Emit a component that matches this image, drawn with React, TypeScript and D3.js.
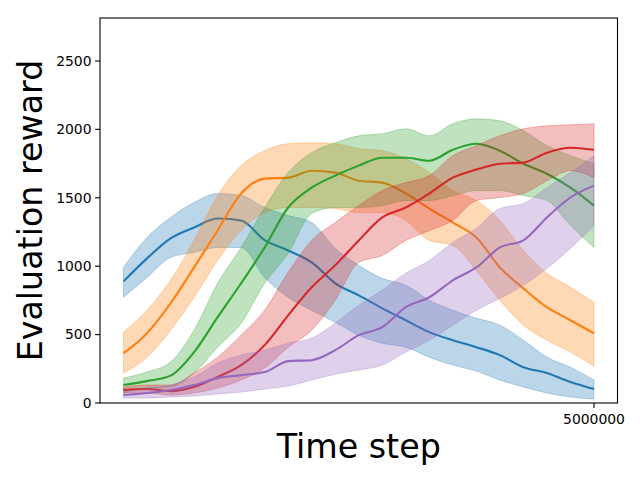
import * as d3 from 'd3';
import React, { useEffect, useRef } from 'react';

const steps = [
    0, 250000, 500000, 750000, 1000000, 1250000, 1500000, 1750000, 2000000,
    2250000, 2500000, 2750000, 3000000, 3250000, 3500000, 3750000, 4000000,
    4250000, 4500000, 4750000, 5000000,
];

const xTicks = [5000000];
const yTicks = [0, 500, 1000, 1500, 2000, 2500];

const blueMean = [889, 1057, 1203, 1283, 1348, 1334, 1190, 1115, 1028, 875, 787, 692, 605, 518, 459, 408, 350, 262, 219, 153, 102];
const blueUpper = [991, 1210, 1356, 1465, 1531, 1516, 1429, 1370, 1319, 1130, 1006, 911, 860, 751, 678, 620, 569, 459, 335, 262, 168];
const blueLower = [773, 918, 1064, 1101, 1137, 1137, 918, 773, 678, 590, 496, 437, 408, 335, 277, 233, 168, 117, 73, 44, 29];

const orangeMean = [364, 510, 729, 991, 1261, 1531, 1640, 1647, 1698, 1684, 1625, 1611, 1531, 1421, 1319, 1210, 991, 838, 700, 605, 510];
const orangeUpper = [518, 678, 897, 1188, 1516, 1735, 1844, 1895, 1902, 1895, 1859, 1844, 1786, 1684, 1553, 1480, 1334, 1115, 948, 846, 736];
const orangeLower = [219, 335, 532, 773, 1042, 1261, 1392, 1429, 1429, 1421, 1392, 1392, 1334, 1188, 1152, 969, 751, 569, 459, 372, 270];

const greenMean = [131, 160, 200, 372, 627, 875, 1137, 1429, 1574, 1662, 1735, 1793, 1793, 1771, 1851, 1895, 1844, 1749, 1676, 1574, 1443];
const greenUpper = [182, 226, 299, 532, 875, 1137, 1429, 1684, 1830, 1902, 1953, 1968, 2004, 1953, 2041, 2077, 2063, 1990, 1881, 1808, 1749];
const greenLower = [73, 109, 117, 219, 408, 583, 875, 1093, 1385, 1429, 1429, 1443, 1480, 1480, 1516, 1553, 1553, 1516, 1480, 1297, 1137];

const redMean = [95, 102, 87, 117, 190, 277, 423, 641, 846, 1006, 1188, 1356, 1429, 1531, 1647, 1706, 1749, 1757, 1830, 1866, 1851];
const redUpper = [117, 131, 131, 219, 335, 496, 678, 955, 1188, 1319, 1443, 1553, 1611, 1662, 1808, 1881, 1953, 2004, 2026, 2034, 2041];
const redLower = [73, 73, 58, 73, 109, 168, 255, 408, 532, 751, 1028, 1079, 1188, 1261, 1334, 1480, 1502, 1531, 1625, 1698, 1647];

const purpleMean = [58, 73, 95, 131, 182, 204, 226, 306, 313, 386, 496, 554, 700, 773, 897, 991, 1137, 1188, 1356, 1502, 1589];
const purpleUpper = [80, 109, 131, 190, 292, 350, 386, 437, 474, 583, 714, 824, 948, 1042, 1174, 1276, 1421, 1458, 1574, 1684, 1808];
const purpleLower = [36, 36, 44, 51, 66, 80, 102, 124, 168, 211, 241, 277, 372, 459, 569, 678, 765, 860, 984, 1130, 1297];

const series = [
    { color: '#1f77b4', mean: blueMean, upper: blueUpper, lower: blueLower },
    { color: '#ff7f0e', mean: orangeMean, upper: orangeUpper, lower: orangeLower },
    { color: '#2ca02c', mean: greenMean, upper: greenUpper, lower: greenLower },
    { color: '#d62728', mean: redMean, upper: redUpper, lower: redLower },
    { color: '#9467bd', mean: purpleMean, upper: purpleUpper, lower: purpleLower },
];

const WIDTH = 640;
const HEIGHT = 480;
const margin = { left: 100, right: 22.5, top: 18, bottom: 77 };
const FONT = '"DejaVu Sans", sans-serif';

const App: React.FC = () => {
    const svgRef = useRef<SVGSVGElement | null>(null);

    useEffect(() => {
        document.body.style.margin = '0';
        if (!svgRef.current) return;

        const svg = d3.select(svgRef.current);
        svg.selectAll('*').remove();

        const x0 = margin.left;
        const x1 = WIDTH - margin.right;
        const y0 = HEIGHT - margin.bottom;
        const y1 = margin.top;

        const span = 5000000;
        const x = d3
            .scaleLinear()
            .domain([-span * 0.05, span * 1.05])
            .range([x0, x1]);
        const y = d3.scaleLinear().domain([0, 2814]).range([y0, y1]);

        const plot = svg.append('g');

        series.forEach((s) => {
            const band = d3
                .area<number>()
                .curve(d3.curveMonotoneX)
                .x((_, i) => x(steps[i]))
                .y0((_, i) => y(s.lower[i]))
                .y1((_, i) => y(s.upper[i]));

            plot.append('path')
                .attr('d', band(s.mean))
                .attr('fill', s.color)
                .attr('fill-opacity', 0.3)
                .attr('stroke', s.color)
                .attr('stroke-opacity', 0.3)
                .attr('stroke-width', 1);

            const line = d3
                .line<number>()
                .curve(d3.curveMonotoneX)
                .x((_, i) => x(steps[i]))
                .y((d) => y(d));

            plot.append('path')
                .attr('d', line(s.mean))
                .attr('fill', 'none')
                .attr('stroke', s.color)
                .attr('stroke-width', 2.1)
                .attr('stroke-linejoin', 'round');
        });

        // frame
        svg.append('rect')
            .attr('x', x0)
            .attr('y', y1)
            .attr('width', x1 - x0)
            .attr('height', y0 - y1)
            .attr('fill', 'none')
            .attr('stroke', 'black')
            .attr('stroke-width', 1.1);

        // y ticks
        yTicks.forEach((t) => {
            const g = svg.append('g').attr('transform', `translate(${x0}, ${y(t)})`);
            g.append('line').attr('x1', -4.9).attr('x2', 0).attr('stroke', 'black').attr('stroke-width', 1.1);
            g.append('text')
                .attr('x', -8.5)
                .attr('dy', '0.35em')
                .attr('text-anchor', 'end')
                .attr('font-family', FONT)
                .attr('font-size', 13.9)
                .text(t);
        });

        // x ticks
        xTicks.forEach((t) => {
            const g = svg.append('g').attr('transform', `translate(${x(t)}, ${y0})`);
            g.append('line').attr('y1', 0).attr('y2', 4.9).attr('stroke', 'black').attr('stroke-width', 1.1);
            g.append('text')
                .attr('y', 20.5)
                .attr('text-anchor', 'middle')
                .attr('font-family', FONT)
                .attr('font-size', 13.9)
                .text(t);
        });

        svg.append('text')
            .attr('x', (x0 + x1) / 2)
            .attr('y', 458)
            .attr('text-anchor', 'middle')
            .attr('font-family', FONT)
            .attr('font-size', 33.3)
            .text('Time step');

        svg.append('text')
            .attr('transform', `translate(42, ${(y0 + y1) / 2}) rotate(-90)`)
            .attr('text-anchor', 'middle')
            .attr('font-family', FONT)
            .attr('font-size', 33.3)
            .text('Evaluation reward');
    }, []);

    return <svg ref={svgRef} width={WIDTH} height={HEIGHT} style={{ display: 'block' }} />;
};

export default App;
